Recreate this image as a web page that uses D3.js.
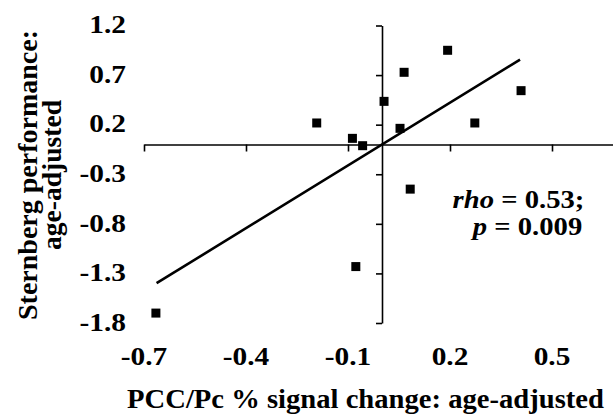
<!DOCTYPE html>
<html><head><meta charset="utf-8">
<script src="https://cdn.jsdelivr.net/npm/d3@7"></script>
<style>
html,body{margin:0;padding:0;background:#fff;}
svg text{font-family:"Liberation Serif","Times New Roman",serif;font-weight:bold;fill:#000;}
</style></head>
<body><svg id="c" width="613" height="416"></svg>
<script>
const xValues = [-0.665, -0.192, -0.087, -0.077, -0.057, 0.006, 0.053, 0.065, 0.083, 0.193, 0.273, 0.409];
const yValues = [-1.70, 0.217, 0.062, -1.231, -0.012, 0.435, 0.163, 0.728, -0.45, 0.95, 0.217, 0.543];
const xTicks = [-0.7, -0.4, -0.1, 0.2, 0.5];
const yTicks = [1.2, 0.7, 0.2, -0.3, -0.8, -1.3, -1.8];
const fitSlope = 2.11, fitIntercept = 0.0;
const fitRange = [-0.663, 0.406];
const xTitle = "PCC/Pc % signal change: age-adjusted";
const yTitle = ["Sternberg performance:", "age-adjusted"];
const statLines = [["rho", " = 0.53;"], ["p", " = 0.009"]];

const svg = d3.select("#c");
const x = d3.scaleLinear().domain([-0.7, 0.8]).range([144, 654]);
const y = d3.scaleLinear().domain([-1.8, 1.2]).range([323, 25.5]);
const fmt = d => d3.format(".1f")(d).replace("\u2212", "-");
const sx = 1.13;

// x axis line at y=0
const xa = svg.append("g").attr("transform", `translate(0,${y(0)})`)
  .call(d3.axisBottom(x).tickValues(xTicks).tickSize(7).tickSizeOuter(0).tickFormat(""));
xa.select(".domain").attr("stroke", "#000").attr("stroke-width", 1.6);
xa.selectAll(".tick line").attr("stroke", "#000").attr("stroke-width", 1.6);

// x tick labels at bottom
svg.append("g").selectAll("text").data(xTicks).join("text")
  .attr("transform", d => `translate(${x(d)},365) scale(${sx},1)`).attr("text-anchor", "middle")
  .style("font-size", "26px").text(fmt);

// y axis at x=0
const ya = svg.append("g").attr("transform", `translate(${x(0)},0)`)
  .call(d3.axisLeft(y).tickValues(yTicks).tickSize(6).tickSizeOuter(0).tickFormat(""));
ya.select(".domain").attr("stroke", "#000").attr("stroke-width", 1.6);
ya.selectAll(".tick line").attr("stroke", "#000").attr("stroke-width", 1.6);

// y tick labels at left
svg.append("g").selectAll("text").data(yTicks).join("text")
  .attr("transform", d => `translate(126,${y(d)}) scale(${sx},1)`).attr("dy", "0.3em").attr("text-anchor", "end")
  .style("font-size", "26px").text(fmt);

// fit line
svg.append("line")
  .attr("x1", x(fitRange[0])).attr("y1", y(fitSlope * fitRange[0] + fitIntercept))
  .attr("x2", x(fitRange[1])).attr("y2", y(fitSlope * fitRange[1] + fitIntercept))
  .attr("stroke", "#000").attr("stroke-width", 2.6);

// points
const s = 9;
svg.append("g").selectAll("rect").data(xValues.map((v, i) => [v, yValues[i]])).join("rect")
  .attr("x", d => x(d[0]) - s / 2).attr("y", d => y(d[1]) - s / 2)
  .attr("width", s).attr("height", s).attr("fill", "#000");

// stats
const statPos = [[518.5, 208], [527.5, 235]];
statLines.forEach((l, i) => {
  const t = svg.append("text").attr("transform", `translate(${statPos[i][0]},${statPos[i][1]}) scale(1.17,1)`)
    .attr("text-anchor", "middle").style("font-size", "24.5px");
  t.append("tspan").style("font-style", "italic").text(l[0]);
  t.append("tspan").text(l[1]);
});

// x title
svg.append("text").attr("transform", "translate(365.5,408) scale(1.06,1)").attr("text-anchor", "middle")
  .style("font-size", "27px").text(xTitle);

// y title
const yPos = [[37, 290], [61, 150]];
yTitle.forEach((t, i) => {
  svg.append("text").attr("transform", `translate(${yPos[i][0]},${175 + yPos[i][1] / 2}) rotate(-90)`)
    .attr("textLength", yPos[i][1]).attr("lengthAdjust", "spacingAndGlyphs")
    .style("font-size", "27px").text(t);
});
</script></body></html>
